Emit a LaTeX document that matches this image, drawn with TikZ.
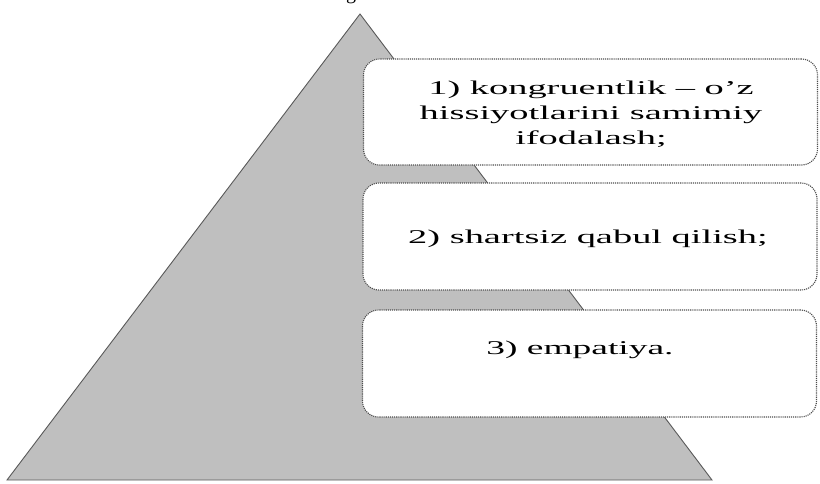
\documentclass[tikz,border=0pt]{standalone}
\usepackage{fontspec}
\setmainfont{Liberation Serif}
\begin{document}
\begin{tikzpicture}[x=1pt,y=-1pt,
  boxst/.style={draw=black!70, densely dotted, line width=1.1pt, fill=white,
    rounded corners=16pt, minimum width=454pt, inner sep=0pt},
  txt/.style={font=\fontsize{19.5}{25}\selectfont, align=center, inner sep=0pt}]
\useasboundingbox (0,0) rectangle (820,483);
% cut caption letter at the top
\node[font=\fontsize{20}{24}\selectfont, anchor=base, inner sep=0pt] (cap) at (351,-1) {g};
% pyramid
\coordinate (apex) at (360,14);
\coordinate (bl) at (7,480);
\coordinate (br) at (712,480);
\filldraw[fill=black!25, draw=black!65, line width=0.9pt] (apex) -- (br) -- (bl) -- cycle;
% boxes
\node[boxst, minimum height=106pt] (b1) at (590.5,112) {};
\node[boxst, minimum height=107pt] (b2) at (590,236.5) {};
\node[boxst, minimum height=107pt] (b3) at (589.5,363.5) {};
% texts
\node[txt] (t1) at (591,114) {\scalebox{1.97}[1]{1) kongruentlik – o'z}\\\scalebox{1.97}[1]{hissiyotlarini samimiy}\\\scalebox{1.97}[1]{ifodalash;}};
\node[txt] (t2) at (588,239) {\scalebox{1.97}[1]{2) shartsiz qabul qilish;}};
\node[txt] (t3) at (580,350) {\scalebox{1.92}[1]{3) empatiya.}};
\end{tikzpicture}
\end{document}
